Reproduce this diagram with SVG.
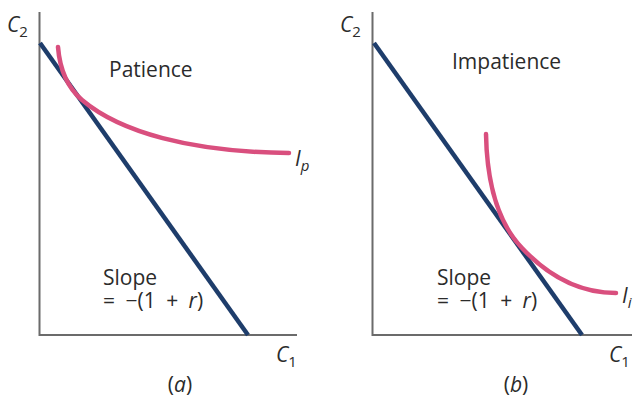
<svg xmlns="http://www.w3.org/2000/svg" width="636" height="403" viewBox="0 0 636 403">
<style>
.ax{stroke:#6b6b6b;stroke-width:2;fill:none}
.bl{stroke:#1e3d6b;stroke-width:4.5;fill:none;stroke-linecap:butt}
.pk{stroke:#d94f7e;stroke-width:4.5;fill:none;stroke-linecap:round}
text{font-family:"Open Sans","Liberation Sans",sans-serif;fill:#2b2b2b;font-size:21px}
.it{font-style:italic}
.sub{font-size:15px}
.eq{word-spacing:5px}
</style>
<rect width="636" height="403" fill="#fff"/>
<g id="panel-a">
<g id="axes-a"><path class="ax" d="M39.5,12 V335 H297"/></g>
<g id="budget-a"><path class="bl" d="M40,43 L248,335"/></g>
<g id="curve-a"><path class="pk" d="M58,47 C60,72 68,88 82,100 C120,132 190,152 289,153"/></g>
<text x="7" y="32" class="it">C<tspan class="sub" dy="5" font-style="normal">2</tspan></text>
<text x="109" y="77">Patience</text>
<text x="295" y="166" class="it">I<tspan class="sub" dy="5">p</tspan></text>
<text x="103" y="285">Slope</text>
<text x="103" y="308" class="eq">= −(1 + <tspan class="it">r</tspan>)</text>
<text x="276" y="362" class="it">C<tspan class="sub" dy="5" font-style="normal">1</tspan></text>
<text x="180" y="392" text-anchor="middle">(<tspan class="it">a</tspan>)</text>
</g>
<g id="panel-b">
<g id="axes-b"><path class="ax" d="M372.5,12 V335 H632"/></g>
<g id="budget-b"><path class="bl" d="M374,43 L582,335"/></g>
<g id="curve-b"><path class="pk" d="M486,134 C487,190 500,225 522,248 C552,280 585,293 616,293"/></g>
<text x="340" y="32" class="it">C<tspan class="sub" dy="5" font-style="normal">2</tspan></text>
<text x="452" y="69">Impatience</text>
<text x="622" y="303" class="it">I<tspan class="sub" dy="5">i</tspan></text>
<text x="437" y="285">Slope</text>
<text x="437" y="308" class="eq">= −(1 + <tspan class="it">r</tspan>)</text>
<text x="609" y="362" class="it">C<tspan class="sub" dy="5" font-style="normal">1</tspan></text>
<text x="516" y="392" text-anchor="middle">(<tspan class="it">b</tspan>)</text>
</g>
</svg>
